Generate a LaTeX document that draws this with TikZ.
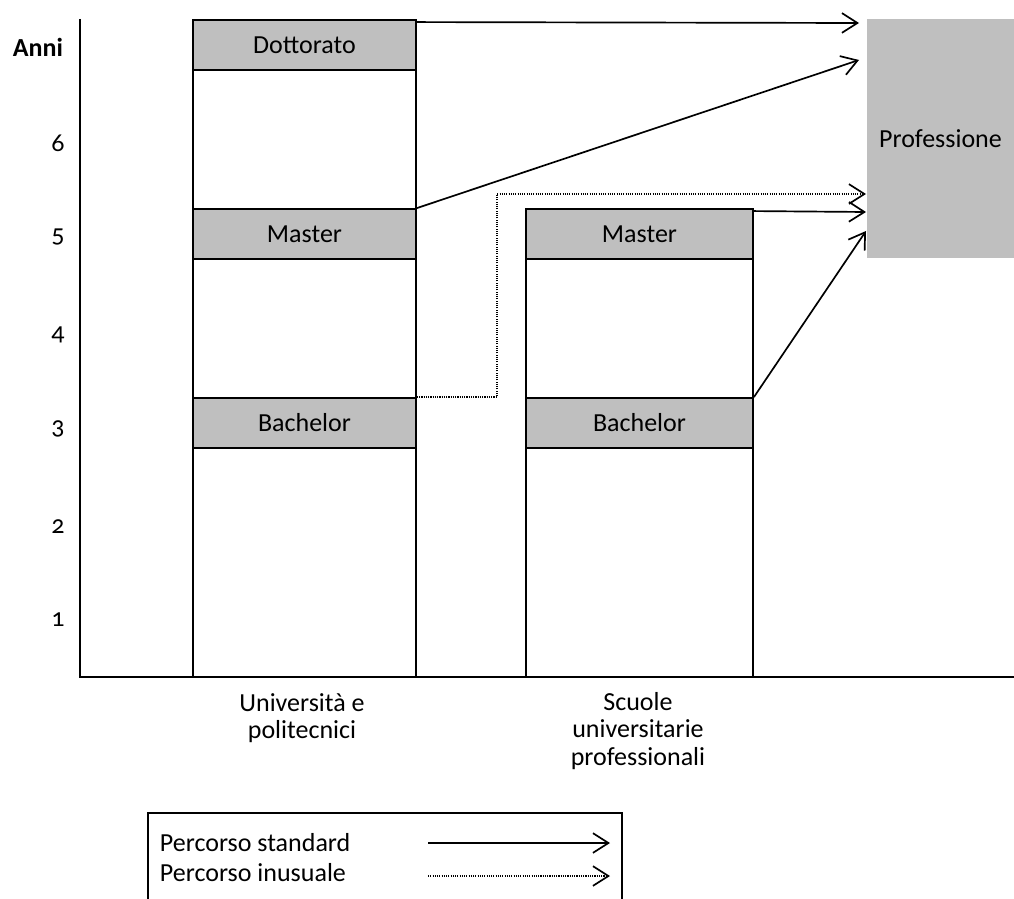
\documentclass[tikz,border=0pt]{standalone}
\usepackage{fontspec}
\setmainfont[Numbers=OldStyle]{Carlito}
\usetikzlibrary{arrows.meta,calc}
\definecolor{bandgray}{RGB}{191,191,191}

\begin{document}
\begin{tikzpicture}[x=0.025cm,y=-0.025cm,
    font=\fontsize{18.5}{19.5}\selectfont,
    band/.style={draw=black,line width=1.3pt,fill=bandgray,minimum height=1.25cm,inner sep=0pt},
    std/.style={line width=1.2pt,-{Straight Barb[length=11pt,width=14pt,line width=1.2pt]}},
    unusual/.style={std,dash pattern=on 0.8pt off 0.8pt}]
			\useasboundingbox (0,0) rectangle (1014,899);
			
			%%%%% axes %%%%%
			\draw[line width=1.3pt] (80,19) -- (80,677) -- (1014,677);
			\node[font=\fontsize{18.5}{19.5}\selectfont\bfseries] (anni) at (38,47) {Anni};
			\node[anchor=base] (y6) at (58,152) {6};
			\node[anchor=base] (y5) at (58,243) {5};
			\node[anchor=base] (y4) at (58,341) {4};
			\node[anchor=base] (y3) at (58,435) {3};
			\node[anchor=base] (y2) at (58,533) {2};
			\node[anchor=base] (y1) at (58,626) {1};
			
			%%%%% columns %%%%%
			\draw[line width=1.3pt] (193,20) rectangle (416,677);
			\draw[line width=1.3pt] (526,209) rectangle (753,677);
			
			\node[band,minimum width=5.575cm] (dott) at (304.5,45) {Dottorato};
			\node[band,minimum width=5.575cm] (master1) at (304.5,234) {Master};
			\node[band,minimum width=5.575cm] (bach1) at (304.5,423) {Bachelor};
			\node[band,minimum width=5.675cm] (master2) at (639.5,234) {Master};
			\node[band,minimum width=5.675cm] (bach2) at (639.5,423) {Bachelor};
			
			\node[fill=bandgray,minimum width=3.675cm,minimum height=5.975cm] (prof) at (940.5,138.5) {Professione};
			
			\node[align=center] (uni) at (302,718) {Università e\\politecnici};
			\node[align=center] (sup) at (638,731) {Scuole\\universitarie\\professionali};
			
			%%%%% paths %%%%%
			\coordinate (tipA) at (859,23);
			\coordinate (tipB) at (859,60);
			\coordinate (tipC) at (866,194);
			\coordinate (tipD) at (866,212);
			\coordinate (tipE) at (866,231);
			\coordinate (bend) at (497,194);
			
			\draw[std] ($(dott.north east)+(0,3)$) -- (tipA);
			\draw[std] (master1.north east) -- (tipB);
			\draw[unusual] (bach1.north east) -| (bend) -- (tipC);
			\draw[std] ($(master2.north east)+(0,3)$) -- (tipD);
			\draw[std] (bach2.north east) -- (tipE);
			
			%%%%% legend %%%%%
			\draw[line width=1.3pt] (148,899) -- (148,813) -- (622,813) -- (622,899);
			\node[anchor=west] (stdtext) at (155,843) {Percorso standard};
			\node[anchor=west] (unutext) at (155,873) {Percorso inusuale};
			\coordinate (stdA) at (428,843);
			\coordinate (stdB) at (610,843);
			\coordinate (unuA) at (428,876);
			\coordinate (unuB) at (610,876);
			\draw[std] (stdA) -- (stdB);
			\draw[unusual] (unuA) -- (unuB);
			
\end{tikzpicture}
\end{document}
